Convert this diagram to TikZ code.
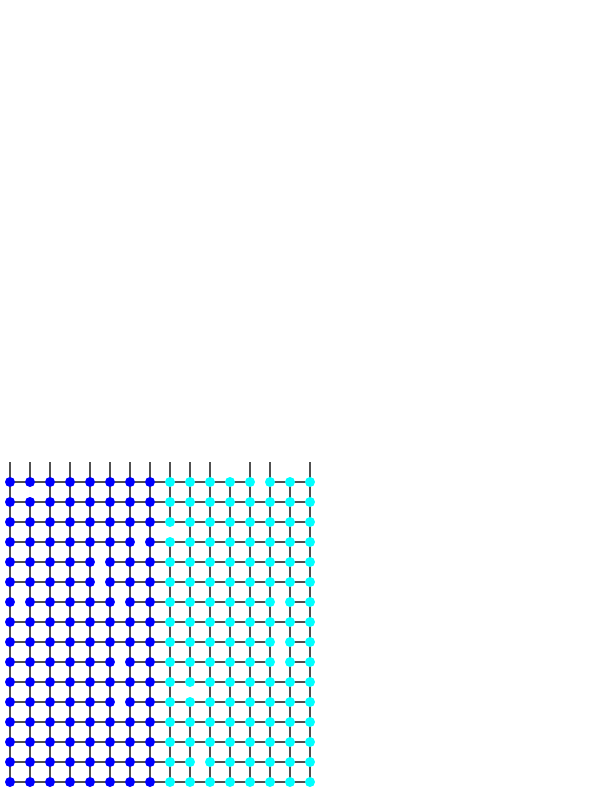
\documentclass[tikz,border=0pt]{standalone}
\usetikzlibrary{backgrounds}
\definecolor{dotblue}{RGB}{0,0,255}
\definecolor{dotcyan}{RGB}{0,255,255}
\definecolor{edgegray}{RGB}{80,80,80}
\makeatletter
\newcommand\unlessin[3]{\edef\my@tmp{\noexpand\in@{,#2,}{#1}}\my@tmp\ifin@\else#3\fi}
\makeatother
\def\missH{,6-3,4-4,4-5,0-6,5-6,5-9,5-11,12-0,13-6,13-8,13-9,9-14,}
\def\missV{,1-0,8-2,9-10,}
\def\missS{,11,14,}
\begin{document}
\begin{tikzpicture}[x=1pt,y=-1pt,
  edge/.style={draw=edgegray, line width=1.2pt},
  dot/.style={circle, minimum size=10pt, inner sep=0pt}]
\useasboundingbox (0,0) rectangle (612,792);
\foreach \i in {0,...,15}{
  \ifnum\i<8 \def\col{dotblue}\else\def\col{dotcyan}\fi
  \foreach \j in {0,...,15}{
    \node[dot, fill=\col] (n-\i-\j) at ({10+20*\i},{482+20*\j}) {};
  }
  \coordinate (t-\i) at ({10+20*\i},462);
}
\begin{pgfonlayer}{background}
\foreach \i in {0,...,15}{
  \unlessin{\missS}{\i}{\draw[edge] (t-\i) -- (n-\i-0.center);}
  \foreach \j in {0,...,15}{
    \pgfmathtruncatemacro\ni{\i+1}
    \pgfmathtruncatemacro\nj{\j+1}
    \ifnum\i<15 \unlessin{\missH}{\i-\j}{\draw[edge] (n-\i-\j.center) -- (n-\ni-\j.center);}\fi
    \ifnum\j<15 \unlessin{\missV}{\i-\j}{\draw[edge] (n-\i-\j.center) -- (n-\i-\nj.center);}\fi
  }
}
\end{pgfonlayer}
\end{tikzpicture}
\end{document}
